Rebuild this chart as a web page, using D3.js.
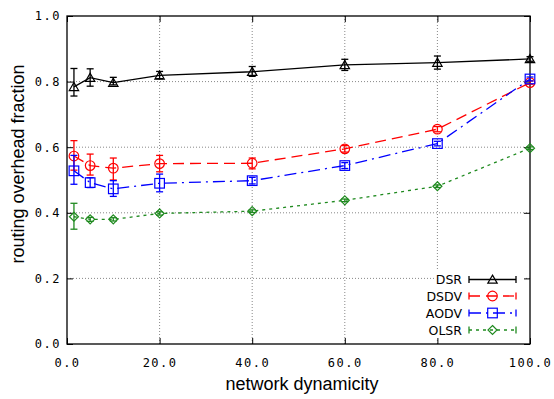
<!DOCTYPE html>
<html><head><meta charset="utf-8">
<script src="https://cdn.jsdelivr.net/npm/d3@7"></script>
<style>body{margin:0;background:#fff}</style>
</head><body><svg id="c" width="554" height="399"></svg>
<script>
const xVals = [1.5, 5, 10, 20, 40, 60, 80, 100];
const xTicks = [0, 20, 40, 60, 80, 100];
const yTicks = [0, 0.2, 0.4, 0.6, 0.8, 1.0];
const seriesNames = ["DSR", "DSDV", "AODV", "OLSR"];
const dsrVals = [0.784, 0.812, 0.797, 0.819, 0.830, 0.851, 0.858, 0.869];
const dsrLow  = [0.756, 0.786, 0.790, 0.809, 0.816, 0.834, 0.838, 0.862];
const dsrHigh = [0.840, 0.839, 0.813, 0.831, 0.846, 0.868, 0.878, 0.876];
const dsdvVals = [0.573, 0.544, 0.536, 0.550, 0.551, 0.595, 0.655, 0.797];
const dsdvLow  = [0.530, 0.515, 0.500, 0.525, 0.534, 0.585, 0.647, 0.792];
const dsdvHigh = [0.620, 0.579, 0.567, 0.575, 0.567, 0.605, 0.663, 0.802];
const aodvVals = [0.528, 0.492, 0.473, 0.490, 0.498, 0.544, 0.611, 0.808];
const aodvLow  = [0.487, 0.477, 0.450, 0.464, 0.488, 0.535, 0.604, 0.802];
const aodvHigh = [0.575, 0.507, 0.498, 0.518, 0.508, 0.553, 0.618, 0.814];
const olsrVals = [0.388, 0.380, 0.380, 0.398, 0.405, 0.438, 0.481, 0.597];
const olsrLow  = [0.350, 0.374, 0.375, 0.393, 0.401, 0.434, 0.477, 0.593];
const olsrHigh = [0.429, 0.386, 0.385, 0.403, 0.409, 0.442, 0.485, 0.601];

const series = [
  {name: seriesNames[0], v: dsrVals, lo: dsrLow, hi: dsrHigh, color: "#000000", dash: null, marker: "triangle"},
  {name: seriesNames[1], v: dsdvVals, lo: dsdvLow, hi: dsdvHigh, color: "#ff0000", dash: "11,6", marker: "circle"},
  {name: seriesNames[2], v: aodvVals, lo: aodvLow, hi: aodvHigh, color: "#0000ff", dash: "12,5,2,5", marker: "square"},
  {name: seriesNames[3], v: olsrVals, lo: olsrLow, hi: olsrHigh, color: "#1f8a1f", dash: "3,4", marker: "diamond"}
];

const svg = d3.select("#c");
const L = 67, R = 530, T = 16, B = 344;
const x = d3.scaleLinear().domain([0, 100]).range([L, R]);
const y = d3.scaleLinear().domain([0, 1]).range([B, T]);
const mono = "'DejaVu Sans Mono', monospace";
const sans = "'Liberation Sans', Arial, sans-serif";

// grid
const g = svg.append("g");
g.selectAll(".gx").data(xTicks.filter(d => d > 0 && d < 100)).enter().append("line")
  .attr("x1", d => x(d)).attr("x2", d => x(d)).attr("y1", T).attr("y2", B)
  .attr("stroke", "#888").attr("stroke-width", 1).attr("stroke-dasharray", "1,2");
g.selectAll(".gy").data(yTicks.filter(d => d > 0 && d < 1)).enter().append("line")
  .attr("x1", L).attr("x2", R).attr("y1", d => y(d)).attr("y2", d => y(d))
  .attr("stroke", "#888").attr("stroke-width", 1).attr("stroke-dasharray", "1,2");

// axes with inward ticks
const xAxB = d3.axisBottom(x).tickValues(xTicks).tickSize(-6).tickFormat(d3.format(".1f")).tickPadding(14);
const xAxT = d3.axisTop(x).tickValues(xTicks).tickSize(-6).tickFormat("");
const yAxL = d3.axisLeft(y).tickValues(yTicks).tickSize(-6).tickFormat(d3.format(".1f")).tickPadding(6);
const yAxR = d3.axisRight(y).tickValues(yTicks).tickSize(-6).tickFormat("");
function styleAx(sel) {
  sel.select(".domain").remove();
  sel.selectAll("line").attr("stroke", "#000");
  sel.selectAll("text").attr("font-family", mono).attr("font-size", 12)
    .attr("letter-spacing", "1.5px").attr("fill", "#000");
}
svg.append("g").attr("transform", `translate(0,${B})`).call(xAxB).call(styleAx);
svg.append("g").attr("transform", `translate(0,${T})`).call(xAxT).call(styleAx);
svg.append("g").attr("transform", `translate(${L},0)`).call(yAxL).call(styleAx);
svg.append("g").attr("transform", `translate(${R},0)`).call(yAxR).call(styleAx);

svg.append("rect").attr("x", L).attr("y", T).attr("width", R - L).attr("height", B - T)
  .attr("fill", "none").attr("stroke", "#000").attr("stroke-width", 1.3);

// titles
svg.append("text").attr("x", 302).attr("y", 390).attr("text-anchor", "middle")
  .attr("font-family", sans).attr("font-size", 18).text("network dynamicity");
svg.append("text").attr("transform", `translate(24,164) rotate(-90)`).attr("text-anchor", "middle")
  .attr("font-family", sans).attr("font-size", 18).text("routing overhead fraction");

function marker(sel, type, color) {
  if (type === "triangle") sel.append("path").attr("d", d3.symbol(d3.symbolTriangle, 38)()).attr("transform", "translate(0,1)");
  else if (type === "circle") sel.append("circle").attr("r", 4.8);
  else if (type === "square") sel.append("rect").attr("x", -4.8).attr("y", -4.8).attr("width", 9.6).attr("height", 9.6);
  else sel.append("path").attr("d", "M0,-4.5L4.5,0L0,4.5L-4.5,0Z");
  sel.selectAll("*").attr("fill", "none").attr("stroke", color).attr("stroke-width", 1.2);
}

const line = d3.line().x(d => x(d[0])).y(d => y(d[1]));
series.forEach(s => {
  const pts = xVals.map((xv, i) => [xv, s.v[i]]);
  const sg = svg.append("g");
  sg.append("path").attr("d", line(pts)).attr("fill", "none").attr("stroke", s.color)
    .attr("stroke-width", 1.3).attr("stroke-dasharray", s.dash);
  xVals.forEach((xv, i) => {
    const cx = x(xv);
    sg.append("line").attr("x1", cx).attr("x2", cx).attr("y1", y(s.lo[i])).attr("y2", y(s.hi[i]))
      .attr("stroke", s.color).attr("stroke-width", 1.3);
    [s.lo[i], s.hi[i]].forEach(v => sg.append("line").attr("x1", cx - 3.5).attr("x2", cx + 3.5)
      .attr("y1", y(v)).attr("y2", y(v)).attr("stroke", s.color).attr("stroke-width", 1.3));
    const m = sg.append("g").attr("transform", `translate(${cx},${y(s.v[i])})`);
    marker(m, s.marker, s.color);
  });
});

// legend
const lg = svg.append("g");
lg.append("rect").attr("x", 436).attr("y", 270).attr("width", 88).attr("height", 68).attr("fill", "#fff");
const rowY = [279.5, 296, 313, 330];
series.forEach((s, i) => {
  const yy = rowY[i];
  lg.append("text").attr("x", 462).attr("y", yy + 4.6).attr("text-anchor", "end")
    .attr("font-family", "'DejaVu Sans', sans-serif").attr("font-size", 12.5).text(s.name);
  lg.append("line").attr("x1", 469).attr("x2", 516).attr("y1", yy).attr("y2", yy)
    .attr("stroke", s.color).attr("stroke-width", 1.3).attr("stroke-dasharray", s.dash);
  [469, 516].forEach(xx => lg.append("line").attr("x1", xx).attr("x2", xx).attr("y1", yy - 3.5).attr("y2", yy + 3.5)
    .attr("stroke", s.color).attr("stroke-width", 1.3));
  const m = lg.append("g").attr("transform", `translate(492.5,${yy})`);
  marker(m, s.marker, s.color);
});
</script></body></html>
